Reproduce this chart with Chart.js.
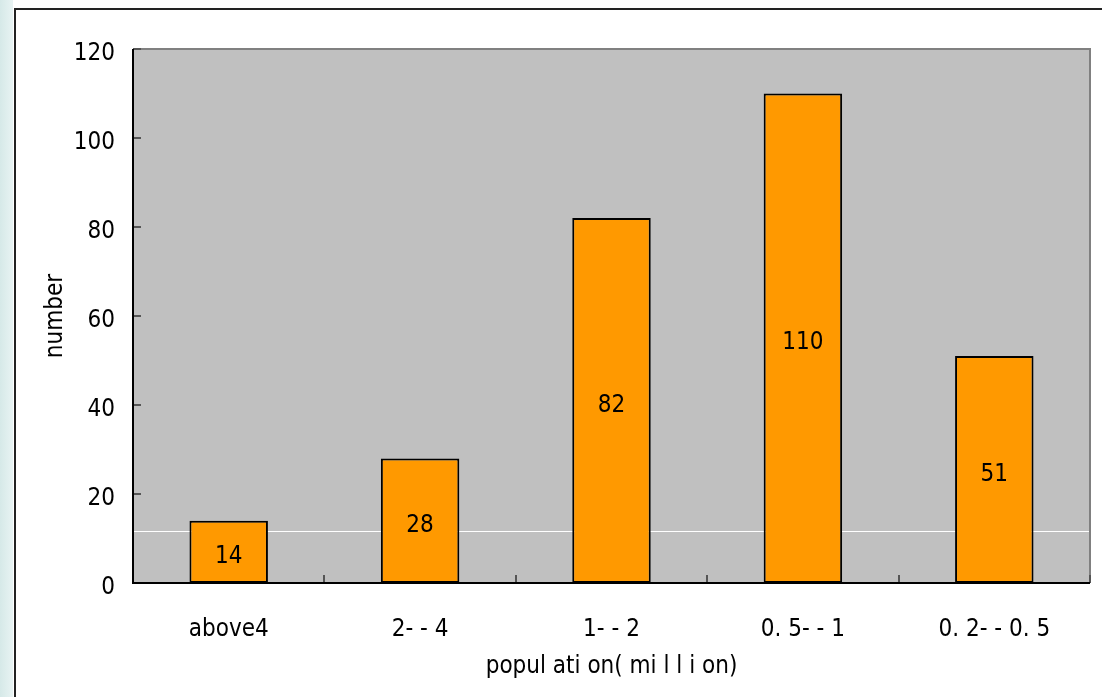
<!DOCTYPE html>
<html>
<head>
<meta charset="utf-8">
<script src="https://cdn.jsdelivr.net/npm/chart.js@4.4.1/dist/chart.umd.min.js"></script>
<style>
  html, body { margin:0; padding:0; width:1102px; height:697px; overflow:hidden;
    background: linear-gradient(to right, #d6e9e8 0px, #e8f3f3 13px, #ffffff 13px); }
  #frame { position:absolute; left:14px; top:8px; width:1100px; height:700px;
    border-left:2px solid #222; border-top:2px solid #222; background:#fff; }
  #wrap { position:absolute; left:0; top:0; width:1102px; height:697px; }
</style>
</head>
<body>
<div id="frame"></div>
<div id="wrap"><canvas id="c" width="1102" height="697"></canvas></div>
<script>
const categories = ["above4", "2- - 4", "1- - 2", "0. 5- - 1", "0. 2- - 0. 5"];
const counts = [14, 28, 82, 110, 51];
const yTicks = [0, 20, 40, 60, 80, 100, 120];
const whiteLineValue = 11.7;
const xTitle = "popul ati on( mi l l i on)";
const yTitle = "number";

const FONT = '"DejaVu Sans Condensed", "Liberation Sans Narrow", sans-serif';
const FS = 24;

const decor = {
  id: 'decor',
  beforeDatasetsDraw(chart) {
    const { ctx, chartArea: a, scales } = chart;
    ctx.save();
    ctx.fillStyle = '#c0c0c0';
    ctx.fillRect(a.left, a.top, a.right - a.left, a.bottom - a.top);
    const wy = Math.round(scales.y.getPixelForValue(whiteLineValue)) + 0.5;
    ctx.strokeStyle = '#ffffff'; ctx.lineWidth = 1;
    ctx.beginPath(); ctx.moveTo(a.left, wy); ctx.lineTo(a.right, wy); ctx.stroke();
    ctx.strokeStyle = '#808080'; ctx.lineWidth = 2;
    ctx.beginPath(); ctx.moveTo(a.left, a.top); ctx.lineTo(a.right, a.top); ctx.lineTo(a.right, a.bottom); ctx.stroke();
    ctx.strokeStyle = '#555'; ctx.lineWidth = 2;
    yTicks.forEach(v => {
      const y = Math.round(scales.y.getPixelForValue(v));
      ctx.beginPath(); ctx.moveTo(a.left, y); ctx.lineTo(a.left + 8, y); ctx.stroke();
    });
    const xs = scales.x;
    for (let i = 0; i <= categories.length; i++) {
      const x = Math.round(xs.getPixelForValue(i - 0.5));
      ctx.beginPath(); ctx.moveTo(x, a.bottom); ctx.lineTo(x, a.bottom - 8); ctx.stroke();
    }
    ctx.restore();
  },
  afterDatasetsDraw(chart) {
    const { ctx } = chart;
    const meta = chart.getDatasetMeta(0);
    ctx.save();
    ctx.fillStyle = '#000';
    ctx.font = FS + 'px ' + FONT;
    ctx.textAlign = 'center'; ctx.textBaseline = 'middle';
    meta.data.forEach((bar, i) => {
      const y = (bar.y + bar.base) / 2 + 5;
      ctx.fillText(String(counts[i]), bar.x, y);
    });
    const a = chart.chartArea;
    ctx.strokeStyle = '#000'; ctx.lineWidth = 2;
    ctx.beginPath(); ctx.moveTo(a.left, a.top); ctx.lineTo(a.left, a.bottom); ctx.lineTo(a.right, a.bottom); ctx.stroke();
    ctx.restore();
  }
};

new Chart(document.getElementById('c'), {
  type: 'bar',
  data: {
    labels: categories,
    datasets: [{
      data: counts,
      backgroundColor: '#ff9900',
      borderColor: '#000000',
      borderWidth: 2,
      borderSkipped: false,
      barPercentage: 0.41,
      categoryPercentage: 1.0
    }]
  },
  options: {
    responsive: false,
    animation: false,
    devicePixelRatio: 1,
    layout: { padding: { top: 49, right: 12, left: 0, bottom: 0 } },
    plugins: { legend: { display: false }, tooltip: { enabled: false } },
    scales: {
      x: {
        grid: { display: false, drawTicks: false },
        border: { display: false },
        ticks: { color: '#000', font: { family: FONT, size: FS }, padding: 32, maxRotation: 0 },
        title: { display: true, text: xTitle, color: '#000', font: { family: FONT, size: FS }, padding: { top: 0, bottom: 16 } },
        afterFit(s) { s.height = 114; }
      },
      y: {
        min: 0, max: 120,
        afterBuildTicks(s) { s.ticks = yTicks.map(v => ({ value: v })); },
        grid: { display: false, drawTicks: false },
        border: { display: false },
        ticks: { color: '#000', font: { family: FONT, size: FS }, padding: 18, labelOffset: 5 },
        title: { display: true, text: yTitle, color: '#000', font: { family: FONT, size: FS }, padding: { top: 41, bottom: 0 } },
        afterFit(s) { s.width = 133; }
      }
    }
  },
  plugins: [decor]
});
</script>
</body>
</html>
